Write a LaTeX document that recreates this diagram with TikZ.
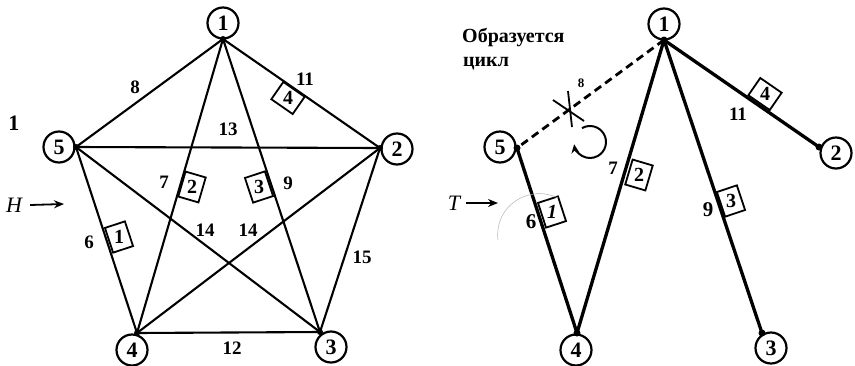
\documentclass[tikz,border=0pt]{standalone}
\usepackage{fontspec}
\setmainfont{Liberation Serif}
\usetikzlibrary{arrows.meta}
\begin{document}
\begin{tikzpicture}[x=1pt,y=-1pt,
 lbl/.style={font=\bfseries\fontsize{19}{19}\selectfont, inner sep=0pt},
 biglbl/.style={font=\bfseries\fontsize{21}{21}\selectfont, inner sep=0pt},
 vnum/.style={circle, draw, line width=2.2pt, minimum size=31pt, inner sep=0pt, font=\bfseries\fontsize{22}{22}\selectfont},
 wbox/.style={draw, line width=1.8pt, minimum width=26pt, minimum height=21pt, inner sep=0pt, font=\bfseries\fontsize{20}{20}\selectfont},
 thinedge/.style={line width=2.1pt},
 thickedge/.style={line width=3.3pt},
 vdot/.style={circle, fill, inner sep=0pt, minimum size=6pt},
 pointer/.style={line width=1.8pt, -{Stealth[length=10pt,width=8pt]}}]
\useasboundingbox (0,0) rectangle (855,365);

% ---------------- left graph ----------------
\coordinate (L1) at (223,39);
\coordinate (L2) at (380,148);
\coordinate (L3) at (320,332);
\coordinate (L4) at (137,333);
\coordinate (L5) at (76,147);

\draw[thinedge] (L1) -- (L2);
\draw[thinedge] (L1) -- (L5);
\draw[thinedge] (L1) -- (L4);
\draw[thinedge] (L1) -- (L3);
\draw[thinedge] (L5) -- (L2);
\draw[thinedge] (L5) -- (L4);
\draw[thinedge] (L5) -- (L3);
\draw[thinedge] (L2) -- (L4);
\draw[thinedge] (L2) -- (L3);
\draw[thinedge] (L4) -- (L3);

\foreach \v in {L1,L2,L3,L4,L5} \node[vdot] (d\v) at (\v) {};

\node[vnum] (lc1) at (223,23) {1};
\node[vnum] (lc2) at (397,149) {2};
\node[vnum] (lc3) at (331,347) {3};
\node[vnum] (lc4) at (132,350) {4};
\node[vnum] (lc5) at (59,147) {5};

\node[wbox, rotate=-34.8] (lb4) at (288,98) {\rotatebox{34.8}{4}};
\node[wbox, rotate=73.7] (lb2) at (192,187) {\rotatebox{-73.7}{2}};
\node[wbox, rotate=-71.7] (lb3) at (259,187) {\rotatebox{71.7}{3}};
\node[wbox, rotate=-71.8] (lb1) at (119,237) {\rotatebox{71.8}{1}};

\node[lbl] (l8) at (135,87) {8};
\node[lbl] (l11) at (305,79) {11};
\node[lbl] (l13) at (228,129) {13};
\node[lbl] (l7) at (164,182) {7};
\node[lbl] (l9) at (288,183) {9};
\node[lbl] (l6) at (89,242) {6};
\node[lbl] (l14a) at (205,230) {14};
\node[lbl] (l14b) at (248,230) {14};
\node[lbl] (l15) at (362,257) {15};
\node[lbl] (l12) at (232,348) {12};

\node[font=\bfseries\fontsize{22}{22}\selectfont, inner sep=0pt] (one) at (14,123) {1};
\node[font=\itshape\fontsize{22}{22}\selectfont, inner sep=0pt] (H) at (14,205) {H};
\coordinate (Ha) at (64,204);
\draw[pointer] (H.east) ++(8,0) -- (Ha);

% ---------------- right graph ----------------
\coordinate (R1) at (664,40);
\coordinate (R2) at (819,147);
\coordinate (R3) at (762,333);
\coordinate (R4) at (577,333);
\coordinate (R5) at (517,148);

\draw[line width=2.8pt, dash pattern=on 8pt off 5pt] (R1) -- (R5);
\draw[thickedge] (R1) -- (R2);
\draw[thickedge] (R1) -- (R4);
\draw[thickedge] (R1) -- (R3);
\draw[thickedge] (R5) -- (R4);

\foreach \v in {R1,R2,R3,R4,R5} \node[vdot, minimum size=7pt] (d\v) at (\v) {};

\node[vnum] (rc1) at (664,24) {1};
\node[vnum] (rc2) at (836,153) {2};
\node[vnum] (rc3) at (771,348) {3};
\node[vnum] (rc4) at (576,350) {4};
\node[vnum] (rc5) at (500,147) {5};

\node[wbox, rotate=-34.6] (rb4) at (765,94) {\rotatebox{34.6}{4}};
\node[wbox, rotate=73.5] (rb2) at (639,175) {\rotatebox{-73.5}{2}};
\node[wbox, rotate=-71.5] (rb3) at (731,201) {\rotatebox{71.5}{3}};
\node[wbox, rotate=-72] (rb1) at (552,212) {\rotatebox{72}{\itshape 1}};

\node[font=\bfseries\fontsize{13}{13}\selectfont, inner sep=0pt] (r8) at (581,83) {8};
\node[lbl] (r11) at (738,114) {11};
\node[lbl] (r7) at (613,168) {7};
\node[biglbl] (r9) at (708,210) {9};
\node[biglbl] (r6) at (531,222) {6};

% cross on the removed edge
\coordinate (xa) at (553,100);
\coordinate (xb) at (584,121);
\coordinate (xc) at (568,91);
\coordinate (xd) at (572,127);
\draw[line width=1.8pt] (xa) -- (xb);
\draw[line width=1.8pt] (xc) -- (xd);

% circular arrow
\coordinate (arcc) at (590,142);
\draw[line width=2pt, -{Stealth[length=9pt,width=8pt]}] (arcc) ++(-120:16) arc[start angle=-120, end angle=172, radius=16];

% faint pencil arc
\coordinate (pa) at (498,240);
\coordinate (pb) at (558,198);
\draw[gray!60, line width=0.5pt] (pa) .. controls (494,205) and (530,184) .. (pb);

\node[font=\bfseries\fontsize{20}{20}\selectfont, anchor=base west, inner sep=0pt] (t1) at (462,42) {Образуется};
\node[font=\bfseries\fontsize{20}{20}\selectfont, anchor=base west, inner sep=0pt] (t2) at (463,66) {цикл};

\node[font=\itshape\fontsize{22}{22}\selectfont, inner sep=0pt] (T) at (454,203) {T};
\coordinate (Ta) at (498,203);
\draw[pointer] (T.east) ++(6,0) -- (Ta);
\end{tikzpicture}
\end{document}
